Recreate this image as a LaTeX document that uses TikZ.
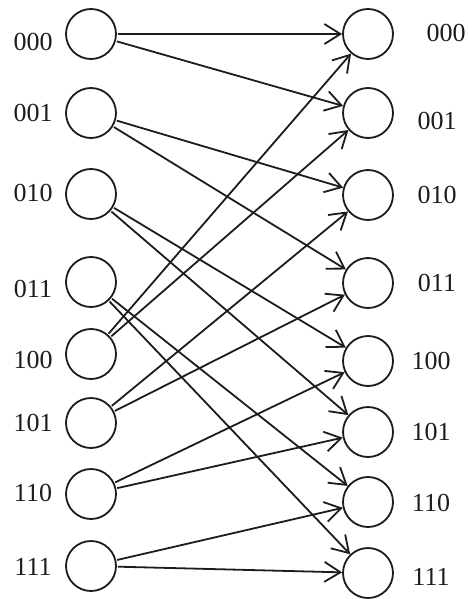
\documentclass[tikz,border=0pt]{standalone}
\usepackage{fontspec}
\setmainfont{Liberation Serif}
\usetikzlibrary{arrows.meta}
\definecolor{ink}{RGB}{28,28,28}
\tikzset{
  % ---- vertices ---------------------------------------------------------
  vtx/.style={circle, draw=ink, line width=1.8pt, minimum size=50pt, inner sep=0pt},
  % ---- labels -----------------------------------------------------------
  lab/.style={font=\fontsize{26}{28}\selectfont, text=ink, inner sep=0pt},
  % ---- arrows -----------------------------------------------------------
  ar/.style={-{Straight Barb[length=16pt,width=20pt]}, draw=ink, line width=1.8pt,
             shorten <=1pt},
}

\begin{document}
\begin{tikzpicture}[x=1pt,y=-1pt]
\useasboundingbox (0,0) rectangle (469,599);

\def\XL{91}\def\XR{368}\def\TL{33}
\newcommand{\colL}[3]{\node[vtx] (l#1) at (\XL,#2) {}; \node[lab] (tl#1) at (\TL,#3) {#1};}
\newcommand{\colR}[4]{\node[vtx] (r#1) at (\XR,#2) {}; \node[lab] (tr#1) at (#4,#3) {#1};}

% ---- left column ----------------------------------------------------------
\colL{000}{34}{42}
\colL{001}{113}{113}
\colL{010}{194}{193}
\colL{011}{282}{289}
\colL{100}{354}{360}
\colL{101}{423}{423}
\colL{110}{494}{493}
\colL{111}{566}{567}

% ---- right column ---------------------------------------------------------
\colR{000}{34}{33}{446}
\colR{001}{113}{121}{437}
\colR{010}{195}{195}{437}
\colR{011}{283}{283}{437}
\colR{100}{361}{361}{431}
\colR{101}{432}{432}{431}
\colR{110}{502}{503}{431}
\colR{111}{573}{577}{431}

% ---- edges: i -> 2i, 2i+1 (mod 8) -----------------------------------------
\foreach \s/\t in {000/000,000/001,001/010,001/011,010/100,010/101,011/110,011/111,
                   100/000,100/001,101/010,101/011,110/100,110/101,111/110,111/111}
  \draw[ar] (l\s) -- (r\t);

\end{tikzpicture}
\end{document}
